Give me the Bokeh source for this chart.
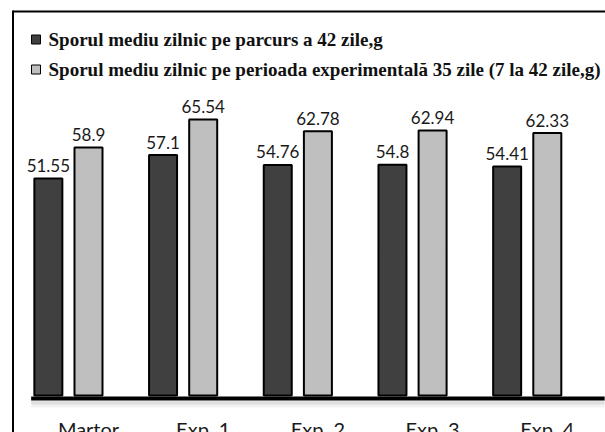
from bokeh.plotting import figure
from bokeh.models import ColumnDataSource, Range1d
from bokeh.transform import dodge
from bokeh.core.properties import value
from bokeh.embed import file_html
from bokeh.resources import INLINE

# ---- data ----
categories = ["Martor", "Exp. 1", "Exp. 2", "Exp. 3", "Exp. 4"]
spor_42_zile = [51.55, 57.1, 54.76, 54.8, 54.41]
spor_35_zile = [58.9, 65.54, 62.78, 62.94, 62.33]
series_names = [
    "Sporul mediu zilnic pe parcurs a 42 zile,g",
    "Sporul mediu zilnic pe perioada experimentală 35 zile (7 la 42 zile,g)",
]

# ---- layout constants (pixels) ----
W, H = 605, 432
px_per_cat = 114.7
cat0_px = 88.0      # canvas x of first category centre
base_px = 395.0     # canvas y of value 0
ky = 4.21           # px per unit

x_start = -cat0_px / px_per_cat
x_end = x_start + W / px_per_cat
y_start = -(H - base_px) / ky
y_end = base_px / ky


def dx(px):
    return (px - cat0_px) / px_per_cat


def dy(py):
    return (base_px - py) / ky


DARK = "#404040"
LIGHT = "#bfbfbf"
TXT = "#1a1a1a"

idx = list(range(len(categories)))
src = ColumnDataSource(dict(
    x=idx,
    cat=categories,
    a=spor_42_zile,
    b=spor_35_zile,
    a_lbl=[str(v) for v in spor_42_zile],
    b_lbl=[str(v) for v in spor_35_zile],
    zero=[0] * len(categories),
))

p = figure(width=W, height=H, output_backend="svg", toolbar_location=None,
           x_range=Range1d(x_start, x_end), y_range=Range1d(y_start, y_end),
           x_axis_location=None, y_axis_location=None,
           min_border=0, min_border_left=0, min_border_right=0,
           min_border_top=0, min_border_bottom=0)
p.outline_line_color = None
p.background_fill_color = "white"
p.border_fill_color = "white"
p.xgrid.grid_line_color = None
p.ygrid.grid_line_color = None

bw = 28 / px_per_cat
off_a, off_b = -0.35, 0.0

p.vbar(x=dodge("x", off_a), top="a", bottom=0, width=bw, source=src,
       fill_color=DARK, line_color="black", line_width=2)
p.vbar(x=dodge("x", off_b), top="b", bottom=0, width=bw, source=src,
       fill_color=LIGHT, line_color="black", line_width=2)

# axis line with soft shadow
n = len(categories)
for off, alpha, w in [(6, 0.05, 6), (4, 0.08, 4)]:
    p.segment(x0=[-0.5], x1=[n - 0.5], y0=[dy(398 + off)], y1=[dy(398 + off)],
              line_color="black", line_alpha=alpha, line_width=w)
p.segment(x0=[-0.5], x1=[n - 0.5], y0=[dy(398)], y1=[dy(398)],
          line_color="black", line_width=4)

# value labels
lbl_kw = dict(text_font=value("Lato"), text_font_size="17px", text_color=TXT,
              text_align="center", text_baseline="alphabetic", y_offset=-13, source=src)
p.text(x=dodge("x", off_a), y="a", text="a_lbl", **lbl_kw)
p.text(x=dodge("x", off_b), y="b", text="b_lbl", **lbl_kw)

# category labels
p.text(x="x", y="zero", text="cat", text_font=value("Lato"), text_font_size="20px",
       text_color=TXT, text_align="center", text_baseline="alphabetic",
       y_offset=33, source=src)

# outer frame (left + top lines)
p.segment(x0=[dx(12.5)], x1=[x_end + 1], y0=[dy(11)], y1=[dy(11)],
          line_color="black", line_width=2)
p.segment(x0=[dx(12.5)], x1=[dx(12.5)], y0=[dy(10)], y1=[y_start - 1],
          line_color="black", line_width=2)

# legend (drawn manually)
leg_y = [dy(39), dy(69)]
leg_src = ColumnDataSource(dict(
    gx=[dx(35.5)] * 2, tx=[dx(48)] * 2, y=leg_y,
    label=series_names, color=[DARK, LIGHT],
))
p.scatter(x="gx", y="y", marker="square", size=9, fill_color="color",
          line_color="black", line_width=1, source=leg_src)
p.text(x="tx", y="y", text="label", text_font=value("Liberation Serif"),
       text_font_style="bold", text_font_size="19px", text_color="#111111",
       text_align="left", text_baseline="middle", source=leg_src)

open("out.html", "w").write(file_html(p, INLINE))
